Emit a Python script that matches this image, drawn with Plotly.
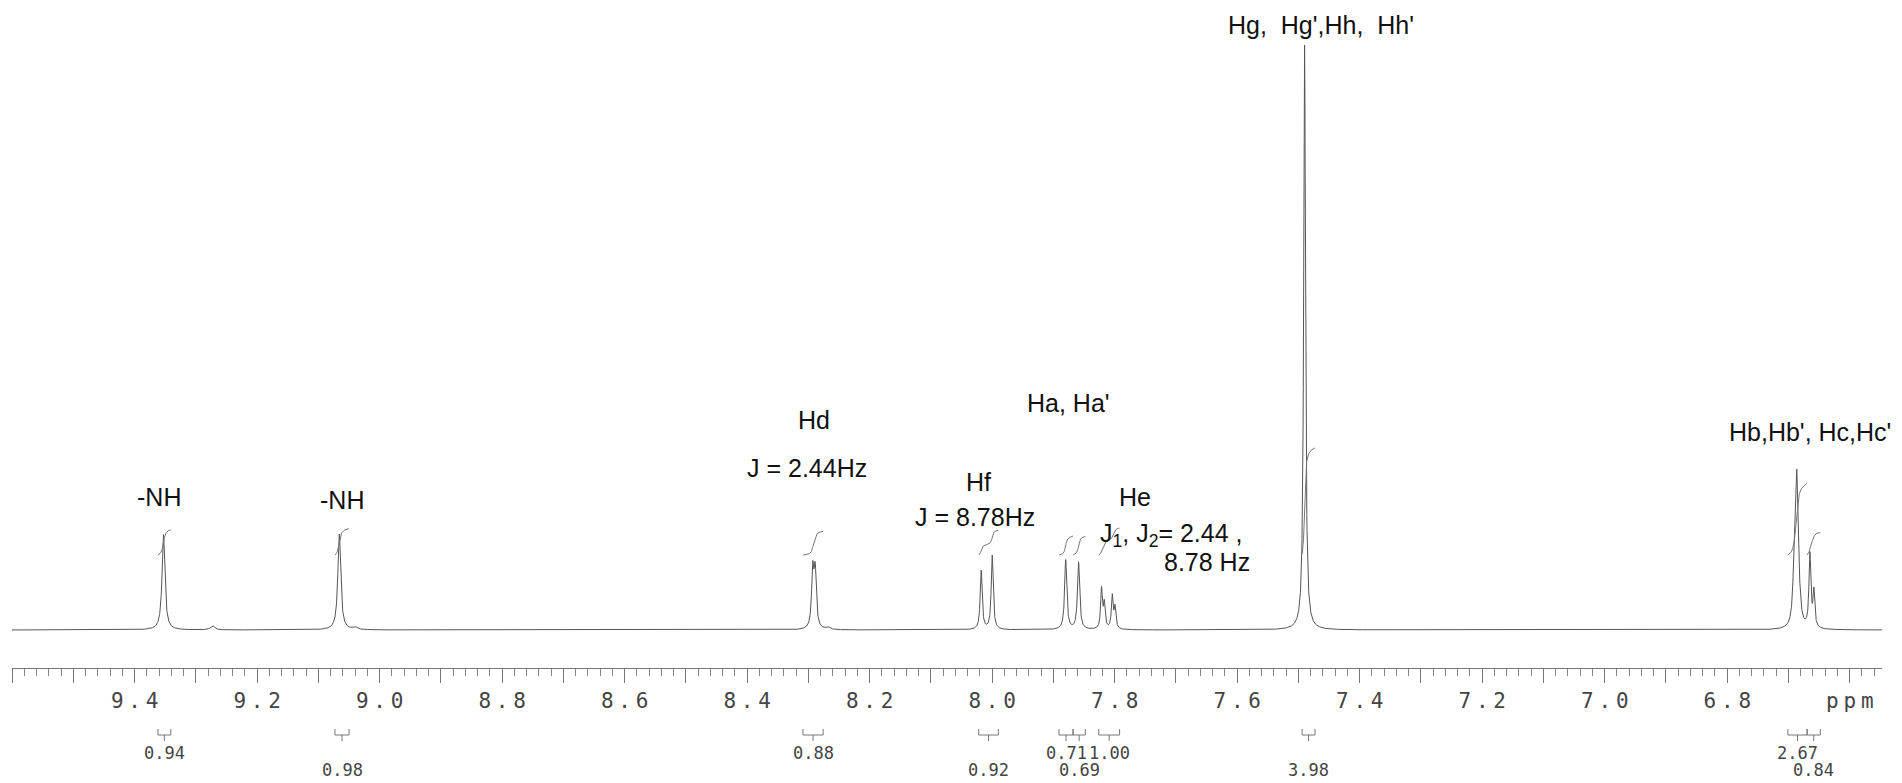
import numpy as np
import plotly.graph_objects as go

# 1H NMR peak list: shift (ppm), height (% of tallest line), half width (ppm)
PEAK_PPM = [9.353, 9.066,
            8.2930, 8.2890,
            8.018, 8.000,
            7.880, 7.859,
            7.8215, 7.8170, 7.8040, 7.7995,
            7.490,
            6.6900, 6.6865, 6.6830, 6.6650, 6.6585,
            9.273, 9.040, 8.268]
PEAK_HEIGHT = [16.3, 16.4,
               9.6, 9.4,
               10.1, 12.7,
               11.9, 11.5,
               6.8, 4.2, 5.6, 3.6,
               100.0,
               12.0, 21.0, 5.0, 12.5, 6.2,
               0.7, 0.4, 0.4]
PEAK_HWHM = [0.0028, 0.0028,
             0.0022, 0.0022,
             0.0019, 0.0019,
             0.0021, 0.0021,
             0.0017, 0.0017, 0.0017, 0.0017,
             0.0018,
             0.0026, 0.0021, 0.0030, 0.0018, 0.0018,
             0.0040, 0.0040, 0.0040]

# integration regions (ppm from, ppm to), integral values, and printing row of the value
INT_FROM = [9.362, 9.073, 8.309, 8.022, 7.891, 7.868, 7.826, 7.494, 6.701, 6.6695]
INT_TO = [9.341, 9.050, 8.276, 7.990, 7.868, 7.848, 7.792, 7.473, 6.6695, 6.648]
INT_VALUES = ["0.94", "0.98", "0.88", "0.92", "0.71", "0.69", "1.00", "3.98", "2.67", "0.84"]
INT_ROW = [1, 2, 1, 2, 1, 2, 1, 2, 1, 2]

TICK_VALUES = [9.4, 9.2, 9.0, 8.8, 8.6, 8.4, 8.2, 8.0, 7.8, 7.6, 7.4, 7.2, 7.0, 6.8, 6.6]
TICK_LABELS = ["9.4", "9.2", "9.0", "8.8", "8.6", "8.4", "8.2", "8.0", "7.8", "7.6",
               "7.4", "7.2", "7.0", "6.8", "ppm"]

# peak assignments: text, ppm, intensity
LABEL_TEXT = ["-NH", "-NH", "Hd", "J = 2.44Hz", "Hf", "J = 8.78Hz", "Ha, Ha'", "He",
              "J<sub>1</sub>, J<sub>2</sub>= 2.44 ,", "8.78 Hz",
              "Hg,  Hg',Hh,  Hh'", "Hb,Hb', Hc,Hc'"]
LABEL_PPM = [9.361, 9.062, 8.291, 8.302, 8.023, 8.028, 7.875, 7.767, 7.708, 7.649, 7.463, 6.665]
LABEL_Y = [22.7, 22.2, 35.9, 27.7, 25.3, 19.3, 38.8, 22.7, 16.2, 11.6, 103.4, 33.8]

X_RANGE = [9.6003, 6.5473]
Y_RANGE = [-6.496, 105.98]
GRAY = "#555555"
TEXT_GRAY = "#444444"

# spectrum as a sum of Lorentzian lines
ppm = np.union1d(np.linspace(X_RANGE[1], X_RANGE[0], 9000), PEAK_PPM)[::-1]
inten = np.zeros_like(ppm)
for c, h, w in zip(PEAK_PPM, PEAK_HEIGHT, PEAK_HWHM):
    inten += h / (1 + ((ppm - c) / w) ** 2)

fig = go.Figure()
fig.add_trace(go.Scatter(x=ppm, y=inten, mode="lines",
                         line=dict(color=GRAY, width=1), hoverinfo="skip"))

# integral curves, drawn just above the peaks (on x2, which carries the 0.1 ppm ticks)
for hi, lo, val in zip(INT_FROM, INT_TO, INT_VALUES):
    m = (ppm <= hi) & (ppm >= lo)
    frac = np.cumsum(inten[m]) / inten[m].sum()
    fig.add_trace(go.Scatter(x=ppm[m], y=12.8 + 4.6 * float(val) * frac, mode="lines",
                             xaxis="x2", line=dict(color="#777777", width=1),
                             hoverinfo="skip"))


# integral brackets and values below the axis (paper y, from pixel rows of the page)
def py(pix):
    return (668 - pix) / 658


shapes = []
annotations = []
for hi, lo, val, row in zip(INT_FROM, INT_TO, INT_VALUES, INT_ROW):
    xm = (hi + lo) / 2
    shapes.append(dict(
        type="path", xref="x", yref="paper",
        path=f"M {hi},{py(729)} L {hi},{py(735)} L {lo},{py(735)} L {lo},{py(729)} "
             f"M {xm},{py(735)} L {xm},{py(741)}",
        line=dict(color="#777777", width=1)))
    annotations.append(dict(
        x=xm, y=py(753 if row == 1 else 770), xref="x", yref="paper",
        text=val, showarrow=False, xanchor="center", yanchor="middle",
        font=dict(family="DejaVu Sans Mono", size=17, color=TEXT_GRAY)))

for txt, x, y in zip(LABEL_TEXT, LABEL_PPM, LABEL_Y):
    annotations.append(dict(
        x=x, y=y, xref="x", yref="y", text=txt, showarrow=False,
        xanchor="center", yanchor="middle",
        font=dict(family="Liberation Sans, Arial", size=25, color="#111111")))


# loosen the printout-style tick labels a little
def spaced(s):
    return "<span style='font-size:8px'> </span>".join(s)


# the page body adds 8px around the figure, so the margins are offset by that
fig.update_layout(
    width=1902, height=783,
    margin=dict(l=4, r=28, t=2, b=123),
    paper_bgcolor="white", plot_bgcolor="white",
    showlegend=False,
    xaxis=dict(
        range=X_RANGE, showgrid=False, zeroline=False,
        showline=True, linecolor="#777777", linewidth=1,
        ticks="outside", ticklen=14, tickwidth=1, tickcolor="#777777",
        tickmode="array", tickvals=TICK_VALUES,
        ticktext=[spaced(t) for t in TICK_LABELS],
        tickfont=dict(family="DejaVu Sans Mono", size=21, color=TEXT_GRAY),
        minor=dict(ticks="outside", ticklen=7, tickwidth=1, tickcolor="#888888",
                   tick0=6.0, dtick=0.02, showgrid=False),
    ),
    xaxis2=dict(
        range=X_RANGE, overlaying="x", anchor="y", side="bottom",
        showgrid=False, zeroline=False, showline=False, showticklabels=False,
        ticks="outside", ticklen=14, tickwidth=1, tickcolor="#777777",
        tickmode="linear", tick0=6.0, dtick=0.1,
    ),
    yaxis=dict(range=Y_RANGE, visible=False, showgrid=False, zeroline=False),
    shapes=shapes,
    annotations=annotations,
)

fig.write_html("out.html")
